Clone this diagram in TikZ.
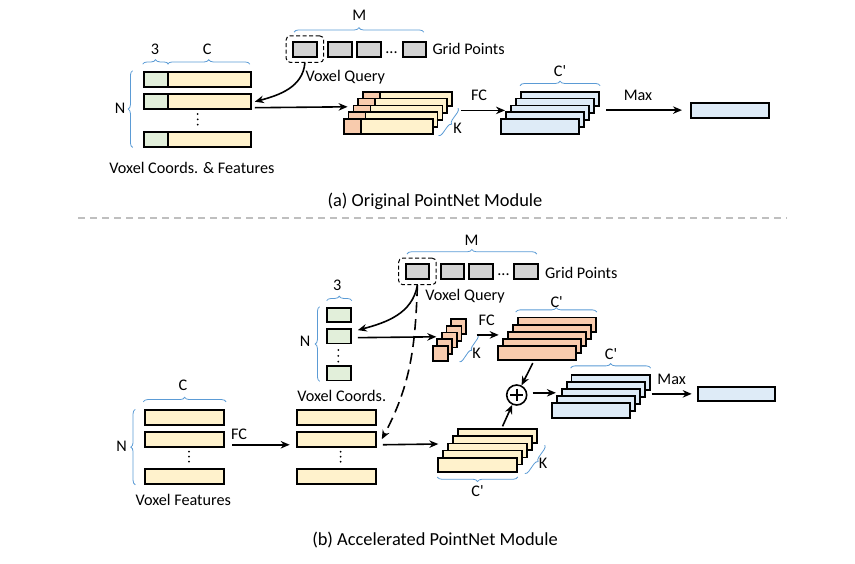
\documentclass[tikz,border=0pt]{standalone}
\usepackage{fontspec}
\setmainfont{Carlito}[Ligatures=TeXOff]
\usetikzlibrary{positioning,arrows.meta,decorations.pathreplacing}

\definecolor{coordgreen}{HTML}{E2EFDA}
\definecolor{featyellow}{HTML}{FFF2CC}
\definecolor{nbrorange}{HTML}{F8CBAD}
\definecolor{outblue}{HTML}{DEEBF7}
\definecolor{gridgray}{HTML}{D3D3D3}
\definecolor{bracecol}{HTML}{5B9BD5}
\definecolor{sepgray}{HTML}{BFBFBF}

\begin{document}
\begin{tikzpicture}[x=1pt,y=-1pt,>={Stealth[length=9pt,width=7.5pt]},
  cell/.style={draw,line width=1.8pt,inner sep=0pt,anchor=north west,minimum height=15},
  qry/.style={draw,dash pattern=on 4pt off 2.5pt,line width=1pt,rounded corners=4pt,inner sep=0pt,minimum width=37.5,minimum height=26.5},
  lbl/.style={font=\fontsize{16.2}{19}\selectfont,inner sep=0pt},
  capt/.style={font=\fontsize{18.4}{22}\selectfont,inner sep=0pt},
  flow/.style={->,line width=1.6pt},
  brc/.style={draw=bracecol,line width=0.8pt,decorate,decoration={brace,amplitude=#1}},
  brc/.default=4.5pt]
\useasboundingbox (0,0) rectangle (855,563);

% (a) original module
\foreach \n/\x/\w in {1/292/24,2/327/24,3/356/24,4/402/23}
  \node[cell,fill=gridgray,minimum width=\w] (ga\n) at (\x,40.7) {};
\node[lbl] (dotsa) at (391.5,53) {...};
\node[lbl,anchor=west] (gpa) at (432.3,49.3) {Grid Points};
\node[qry] (qa) at (ga1.center) {};
\draw[brc] ([shift={(2,-8.5)}]ga1.north west) -- ([shift={(-3,-8.5)}]ga4.north east);
\node[lbl] (Ma) at (359.3,15.7) {M};
\node[lbl] (vqa) at (345.3,77) {Voxel Query};

\foreach \n/\y in {1/70.7,2/93.3,3/130.7}{
  \node[cell,fill=coordgreen,minimum width=24] (ca\n) at (142.7,\y) {};
  \node[cell,fill=featyellow,minimum width=83.3] (fa\n) at (166.7,\y) {};
}
\foreach \y in {114,119.3,124.6}
  \fill (197.7,\y) circle (1pt);
\draw[brc] ([shift={(0,-6.5)}]ca1.north west) -- ([shift={(0,-6.5)}]ca1.north east);
\draw[brc] ([shift={(1,-6.5)}]fa1.north west) -- ([shift={(-2,-6.5)}]fa1.north east);
\node[lbl] (threea) at (155,49.3) {3};
\node[lbl] (Ca) at (207.3,49.3) {C};
\draw[brc] ([shift={(-10,0)}]ca3.south west) -- ([shift={(-10,0)}]ca1.north west);
\node[lbl] (Na) at (120,108.3) {N};
\node[lbl] (vcfa) at (192,168.3) {Voxel Coords. \& Features};

\foreach \i in {4,3,2,1,0}{
  \node[cell,fill=nbrorange,minimum width=17,minimum height=14.6] (oa\i) at (342.7+4.9*\i,118.3-6.9*\i) {};
  \node[cell,fill=featyellow,minimum width=72,minimum height=14.6] (ya\i) at (359.7+4.9*\i,118.3-6.9*\i) {};
}
\draw[brc=4pt] ([shift={(5,1)}]ya4.south east) -- ([shift={(5,1)}]ya0.south east);
\node[lbl] (Ka) at (457.5,128) {K};

\foreach \i in {4,3,2,1,0}
  \node[cell,fill=outblue,minimum width=78.3,minimum height=14.4] (ba\i) at (500+5*\i,118.3-6.9*\i) {};
\draw[brc] ([shift={(0,-5)}]ba4.north west) -- ([shift={(0,-5)}]ba4.north east);
\node[lbl] (Cpa) at (560,70.7) {C'};
\node[cell,fill=outblue,minimum width=78.3] (outa) at (690,101.7) {};

\draw[flow] (qa.south) to[out=-95,in=15] ([xshift=3pt]fa2.east);
\draw[flow] ([shift={(3,6)}]fa2.east) -- ([shift={(0,-4.6)}]oa1.north west);
\draw[flow] ([shift={(-44,-1)}]ba1.north west) -- ([shift={(0,-1)}]ba1.north west);
\node[lbl] (FCa) at (479,95) {FC};
\draw[flow] ([shift={(-84,0)}]outa.west) -- ([shift={(-8,0)}]outa.west);
\node[lbl] (Maxa) at (638,95) {Max};

\node[capt] (capa) at (435,201) {(a) Original PointNet Module};
\draw[sepgray,line width=1.8pt,dash pattern=on 7pt off 5pt] (78,218.3) -- (787,218.3);

% (b) accelerated module
\foreach \n/\x/\w in {1/405/23,2/440/23,3/468/24,4/513/24}
  \node[cell,fill=gridgray,minimum width=\w] (gb\n) at (\x,263) {};
\node[lbl] (dotsb) at (503.5,275) {...};
\node[lbl,anchor=west] (gpb) at (545,272.7) {Grid Points};
\node[qry] (qb) at (gb1.center) {};
\draw[brc] ([shift={(2,-9)}]gb1.north west) -- ([shift={(-2,-9)}]gb4.north east);
\node[lbl] (Mb) at (471.5,240) {M};
\node[lbl] (vqb) at (465,296.3) {Voxel Query};

\foreach \n/\y in {1/306.7,2/328,3/365}
  \node[cell,fill=coordgreen,minimum width=24.3,minimum height=14.5] (cb\n) at (325.7,\y) {};
\foreach \y in {350,355.8,361.6}
  \fill (338.3,\y) circle (1pt);
\draw[brc] ([shift={(1,-6)}]cb1.north west) -- ([shift={(0,-6)}]cb1.north east);
\node[lbl] (threeb) at (337.3,285) {3};
\draw[brc] ([shift={(-6,0)}]cb3.south west) -- ([shift={(-6,0)}]cb1.north west);
\node[lbl] (Nb) at (305,341.7) {N};
\node[lbl] (vcb) at (341.7,395.8) {Voxel Coords.};

\foreach \i in {4,3,2,1,0}
  \node[cell,fill=nbrorange,minimum width=15,minimum height=15] (sb\i) at (431.7+4.6*\i,345-6.7*\i) {};
\draw[brc=3.5pt] ([shift={(11,0)}]sb4.south east) -- ([shift={(11,0)}]sb0.south east);
\node[lbl] (Kb) at (476.5,353) {K};

\foreach \i in {4,3,2,1,0}
  \node[cell,fill=nbrorange,minimum width=78.3,minimum height=14.3] (ob\i) at (496.7+5*\i,345-7.1*\i) {};
\draw[brc] ([shift={(-1,-4.5)}]ob4.north west) -- ([shift={(0,-4.5)}]ob4.north east);
\node[lbl] (Cpb) at (556.7,302.5) {C'};

\node[draw,circle,line width=1.6pt,minimum size=20,inner sep=0pt] (plus) at (516.7,395) {};
\draw[line width=1.7pt] ([yshift=-4.5pt]plus.north) -- ([yshift=4.5pt]plus.south)
  ([xshift=4.5pt]plus.west) -- ([xshift=-4.5pt]plus.east);

\foreach \i in {4,3,2,1,0}
  \node[cell,fill=outblue,minimum width=78.3,minimum height=15] (bb\i) at (551+4.9*\i,401.7-6.9*\i) {};
\draw[brc] ([shift={(0,-6)}]bb4.north west) -- ([shift={(0,-6)}]bb4.north east);
\node[lbl] (Cpc) at (611,354) {C'};
\node[cell,fill=outblue,minimum width=77.6,minimum height=14.5] (outb) at (696.7,385.7) {};

\foreach \n/\y in {1/409.3,2/431,3/468.3}{
  \node[cell,fill=featyellow,minimum width=79,minimum height=14.7] (fb\n) at (144.3,\y) {};
  \node[cell,fill=featyellow,minimum width=79.3,minimum height=14.7] (mb\n) at (295.7,\y) {};
}
\foreach \y in {451.7,456.7,461.7}{
  \fill (189,\y) circle (1pt);
  \fill (340.7,\y) circle (1pt);
}
\draw[brc] ([shift={(-1,-7.5)}]fb1.north west) -- ([shift={(1,-7.5)}]fb1.north east);
\node[lbl] (Cb) at (183,385) {C};
\draw[brc] ([shift={(-9,0)}]fb3.south west) -- ([shift={(-9,0)}]fb1.north west);
\node[lbl] (Nc) at (121.7,446) {N};
\node[lbl] (vfb) at (183.3,500) {Voxel Features};

\foreach \i in {4,3,2,1,0}
  \node[cell,fill=featyellow,minimum width=78.7,minimum height=14] (yb\i) at (437.3+5*\i,456.7-7.1*\i) {};
\draw[brc=4pt] ([shift={(7,1)}]yb4.south east) -- ([shift={(7,1)}]yb0.south east);
\node[lbl] (Kc) at (543,463.5) {K};
\draw[brc] ([shift={(0,4.5)}]yb0.south east) -- ([shift={(0,4.5)}]yb0.south west);
\node[lbl] (Cpd) at (477.5,491) {C'};

\draw[flow] (qb.south) to[out=-100,in=15] ([shift={(6,-6)}]cb2.east);
\draw[flow,dash pattern=on 11pt off 6pt] (qb.south) to[out=-92,in=62] ([shift={(5,0)}]mb2.east);
\draw[flow] ([shift={(6,1.5)}]cb2.east) -- ([shift={(0,-1.5)}]sb1.north west);
\draw[flow] ([shift={(-25,-3)}]ob1.north west) -- ([shift={(-3,-3)}]ob1.north west);
\node[lbl] (FCb) at (486.7,320) {FC};
\draw[flow] ([shift={(-4,2)}]ob0.south) -- (plus);
\draw[flow] ([shift={(5,-2)}]yb4.north) -- (plus);
\draw[flow] ([shift={(5,-2.2)}]plus.east) -- ([shift={(0,-2)}]bb1.north west);
\draw[flow] ([shift={(-45,0)}]outb.west) -- ([shift={(-5,0)}]outb.west);
\node[lbl] (Maxb) at (671.7,379) {Max};
\draw[flow] ([shift={(7,5.5)}]fb2.east) -- ([shift={(-6,5.5)}]mb2.west);
\node[lbl] (FCc) at (239,434) {FC};
\draw[flow] ([shift={(6,5.5)}]mb2.east) -- ([shift={(-4,-5.6)}]yb1.north west);

\node[capt] (capb) at (435,540) {(b) Accelerated PointNet Module};
\end{tikzpicture}
\end{document}
